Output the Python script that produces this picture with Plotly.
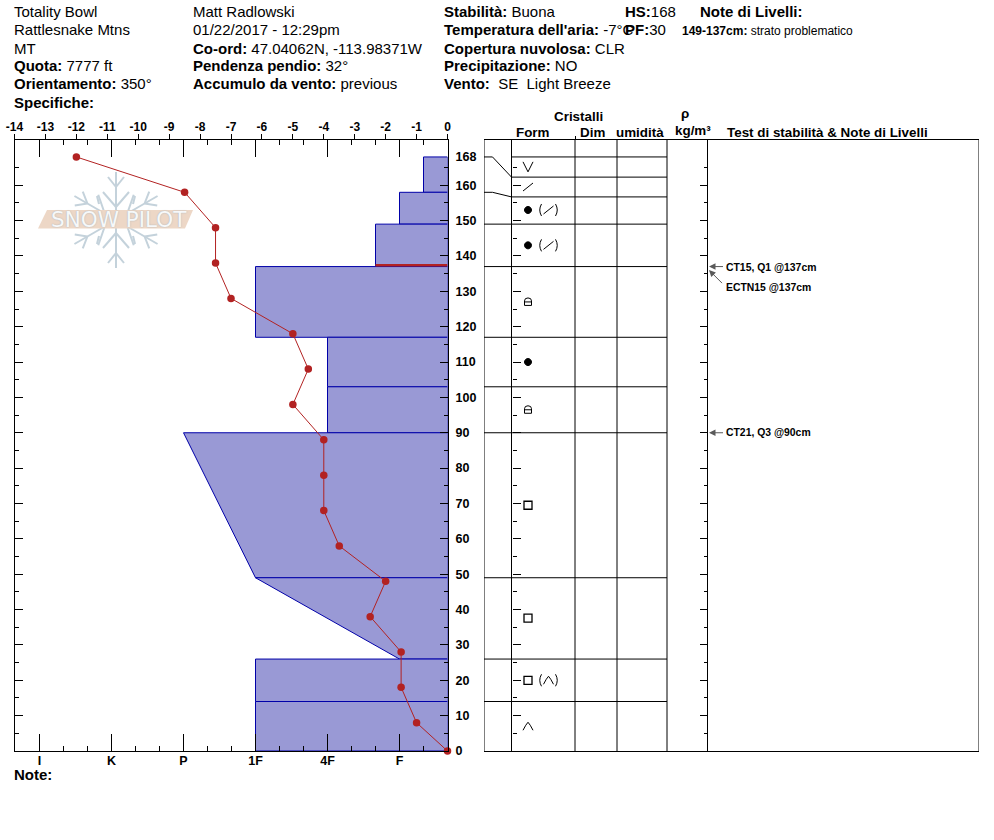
import math
import plotly.graph_objects as go

# ---------- data ----------
temp_depth = [0, 8, 18, 28, 38, 48, 58, 68, 78, 88, 98, 108, 118, 128, 138, 148, 158, 168]
temp_value = [0, -1, -1.5, -1.5, -2.5, -2, -3.5, -4, -4, -4, -5, -4.5, -5, -7, -7.5, -7.5, -8.5, -12]

layer_top = [168, 158, 149, 137, 117, 103, 90, 49, 26, 14]
layer_bottom = [158, 149, 137, 117, 103, 90, 49, 26, 14, 0]
hard_top = [2/3, 1, 4/3, 3, 2, 2, 4, 3, 3, 3]
hard_bottom = [2/3, 1, 4/3, 3, 2, 2, 3, 1, 3, 3]

hard_ticks = [6, 5, 4, 3, 2, 1]
hard_labels = ["I", "K", "P", "1F", "4F", "F"]
temp_ticks = list(range(-14, 1))
depth_labels = [0, 10, 20, 30, 40, 50, 60, 70, 80, 90, 100, 110, 120, 130, 140, 150, 160, 168]

row_lines = [168, 162.3, 156.7, 149, 137, 117, 103, 90, 49, 26, 14]
form_depth = [165.2, 159.5, 153, 143, 127, 110, 96.5, 69.5, 37.6, 20, 7]
form_primary = ["vee", "slash", "dot", "dot", "lock", "dot", "lock", "square", "square", "square", "wedge"]
form_secondary = [None, None, "slash", "slash", None, None, None, None, None, "wedge", None]

test_labels = ["CT15, Q1 @137cm", "ECTN15 @137cm", "CT21, Q3 @90cm"]
test_depths = [137, 136, 90]

# ---------- page geometry ----------
OX, OY, W, H = 0, 0, 994, 840
DARK = "#000000"
SANS = "Liberation Sans"


def X(p):
    return (p - OX) / W


def Y(p):
    return 1 - (p - OY) / H


Y_TOP = (751 - 140) / 3.536
LEFT = [X(14.5), X(447.5)]
RIGHT = [X(484), X(979)]
HARD_RANGE = [1 / 3 + 433 / 72, 1 / 3]
COLS = [0, 27.5, 91, 133, 183, 223.5, 495]

fig = go.Figure()

# layers
for t, b, ht, hb in zip(layer_top, layer_bottom, hard_top, hard_bottom):
    fig.add_trace(go.Scatter(
        x=[HARD_RANGE[1], ht, hb, HARD_RANGE[1], HARD_RANGE[1]], y=[t, t, b, b, t],
        xaxis="x", yaxis="y", mode="lines", fill="toself", fillcolor="#9999D5",
        line=dict(color="#0000A8", width=1), hoverinfo="skip", showlegend=False))
# problem layer
fig.add_trace(go.Scatter(x=[4/3, HARD_RANGE[1]], y=[137.4, 137.4], xaxis="x", yaxis="y", mode="lines",
                         line=dict(color="#B22222", width=2.5), showlegend=False, hoverinfo="skip"))
# temperature
fig.add_trace(go.Scatter(x=temp_value, y=temp_depth, xaxis="x2", yaxis="y", mode="lines+markers",
                         line=dict(color="#B22222", width=1), marker=dict(color="#B22222", size=7.5),
                         showlegend=False, hoverinfo="skip", cliponaxis=False))

# right panel: columns and rows
for c in COLS:
    fig.add_trace(go.Scatter(x=[c, c], y=[0, Y_TOP], xaxis="x4", yaxis="y", mode="lines",
                             line=dict(color=DARK, width=1), showlegend=False, hoverinfo="skip"))
for i, d in enumerate(row_lines):
    x0 = COLS[1] if i in (0, 1, 2) else 0
    fig.add_trace(go.Scatter(x=[x0, COLS[4]], y=[d, d], xaxis="x4", yaxis="y", mode="lines",
                             line=dict(color=DARK, width=1), showlegend=False, hoverinfo="skip"))
# connectors from true depth to drawn row
for true_d, row_d in ((168, 162.3), (158, 156.7)):
    fig.add_trace(go.Scatter(x=[0, 8.5, COLS[1]], y=[true_d, true_d, row_d], xaxis="x4", yaxis="y", mode="lines",
                             line=dict(color=DARK, width=1), showlegend=False, hoverinfo="skip"))

# invisible traces so that every overlay axis exists
for xa, ya in (("x3", "y"), ("x", "y2"), ("x", "y3"), ("x", "y4"), ("x", "y5")):
    fig.add_trace(go.Scatter(x=[None], y=[None], xaxis=xa, yaxis=ya, mode="lines", showlegend=False,
                             hoverinfo="skip"))


def ticks10():
    return list(range(0, 170, 10))


def ticks5():
    return list(range(5, 170, 10))


def tick_axis(**kw):
    base = dict(range=[0, Y_TOP], domain=[Y(751), Y(140)], fixedrange=True, showgrid=False, zeroline=False,
                automargin=False,
                tickmode="array", tickvals=ticks10(), ticks="inside", ticklen=8, tickcolor=DARK,
                showticklabels=False, showline=True, linecolor=DARK, linewidth=1,
                minor=dict(tickmode="array", tickvals=ticks5(), ticks="inside", ticklen=4, tickcolor=DARK,
                           showgrid=False))
    base.update(kw)
    return base


minor_hard = [n / 3 for n in range(1, 19) if n % 3]

fig.update_layout(
    template="none",
    width=W, height=H, margin=dict(l=0, r=0, t=0, b=0), paper_bgcolor="white", plot_bgcolor="rgba(0,0,0,0)",
    showlegend=False, hovermode=False, font=dict(family=SANS, color=DARK),
    xaxis=dict(domain=LEFT, range=HARD_RANGE, side="bottom", anchor="y", tickmode="array", automargin=False,
               tickvals=hard_ticks, ticktext=hard_labels, ticks="inside", ticklen=17, tickcolor=DARK,
               tickfont=dict(size=12.5, family=SANS, weight="bold"), showgrid=False, zeroline=False, showline=True,
               linecolor=DARK, linewidth=1, fixedrange=True, ticklabelstandoff=-2,
               minor=dict(tickmode="array", tickvals=minor_hard, ticks="inside",
                          ticklen=5, tickcolor=DARK, showgrid=False)),
    xaxis2=dict(domain=LEFT, range=[-14, 0], side="top", anchor="y", overlaying="x", tickmode="array",
                automargin=False, tickvals=temp_ticks,
                ticktext=[str(v) for v in temp_ticks], ticks="outside", ticklen=5, tickcolor=DARK,
                tickfont=dict(size=12, family=SANS, weight="bold"), showgrid=False, zeroline=False, showline=True,
                linecolor=DARK, linewidth=1, fixedrange=True, ticklabelstandoff=-2),
    xaxis3=dict(domain=LEFT, range=HARD_RANGE, side="top", anchor="y", overlaying="x", tickmode="array",
                automargin=False,
                tickvals=hard_ticks, ticks="inside", ticklen=17, tickcolor=DARK, showticklabels=False,
                showgrid=False, zeroline=False, fixedrange=True,
                minor=dict(tickmode="array", tickvals=minor_hard, ticks="inside",
                           ticklen=5, tickcolor=DARK, showgrid=False)),
    xaxis4=dict(domain=RIGHT, range=[0, 495], anchor="y", side="top", showgrid=False, zeroline=False,
                automargin=False, tickmode="array", tickvals=[COLS[2]], ticks="outside", ticklen=3, tickcolor=DARK,
                showticklabels=False, showline=True, mirror=True, linecolor=DARK, linewidth=1,
                fixedrange=True),
    yaxis=tick_axis(anchor="x", side="left"),
    yaxis2=tick_axis(anchor="x", side="right", overlaying="y", tickvals=depth_labels,
                     ticktext=[str(v) for v in depth_labels], showticklabels=True, ticks="", minor=dict(ticks=""),
                     showline=False, tickfont=dict(size=12.5, family=SANS, weight="bold"), ticklabelstandoff=7),
    yaxis3=tick_axis(anchor="x", side="right", overlaying="y"),
    yaxis4=tick_axis(anchor="free", position=X(511.5), side="left", overlaying="y", showline=False),
    yaxis5=tick_axis(anchor="free", position=X(707.5), side="right", overlaying="y", showline=False),
)

# ---------- crystal glyphs (pixel-sized paths anchored on the depth scale) ----------
k = 1.9
GLYPHS = {
    "vee": "M-5,5 L0,-5 L5,5",
    "slash": "M-5,-4 L5,4",
    "wedge": "M-5,-4 Q-2,2 0,4 Q2,2 5,-4",
    "square": "M-4,-4 L4,-4 L4,4 L-4,4 Z",
    "lock": "M-3.5,-3.5 L3.5,-3.5 L3.5,1 Q3.5,4 0,4 Q-3.5,4 -3.5,1 Z M-3.5,0 L3.5,0",
    "dot": f"M-3.5,0 C-3.5,{k} -{k},3.5 0,3.5 C{k},3.5 3.5,{k} 3.5,0 C3.5,-{k} {k},-3.5 0,-3.5 C-{k},-3.5 -3.5,-{k} -3.5,0 Z",
    "open": "M1.5,6 Q-2,0 1.5,-6",
    "close": "M-1.5,6 Q2,0 -1.5,-6",
}


def glyph(name, xpos, depth):
    fig.add_shape(type="path", path=GLYPHS[name], xref="x4", yref="y", xsizemode="pixel", ysizemode="pixel",
                  xanchor=xpos, yanchor=depth, line=dict(color=DARK, width=1.3 if name == "square" else 1),
                  fillcolor=DARK if name == "dot" else "rgba(0,0,0,0)")


for d, p, s in zip(form_depth, form_primary, form_secondary):
    glyph(p, 44, d)
    if s:
        glyph("open", 56, d)
        glyph(s, 64.5, d)
        glyph("close", 73, d)

# ---------- logo watermark ----------
band = [(38, 228.5), (47, 210), (193, 210), (185, 228.5)]
cx, cy = 116, 220
FLAKE = "#C4D2DB"


def logo_line(x0, y0, x1, y1):
    fig.add_shape(type="line", xref="paper", yref="paper", layer="below", x0=X(x0), y0=Y(y0), x1=X(x1), y1=Y(y1),
                  line=dict(color=FLAKE, width=2))


for a in range(0, 360, 60):
    ux, uy = math.cos(math.radians(a)), math.sin(math.radians(a))

    def pt(r, s):
        return cx + r * uy + s * ux, cy - r * ux + s * uy

    logo_line(*pt(4, 0), *pt(48, 0))
    for base, tip, side in ((13, 28, 13), (33, 43, 8)):
        logo_line(*pt(base, 0), *pt(tip, side))
        logo_line(*pt(base, 0), *pt(tip, -side))
for sx in (-1, 1):
    for sy in (-1, 1):
        logo_line(cx + sx * 17, cy + sy * 16, cx + sx * 19, cy + sy * 24)
fig.add_shape(type="path", xref="paper", yref="paper", layer="below", line=dict(width=0), fillcolor="#EDD7C6",
              path="M" + " L".join(f"{X(a):.5f},{Y(b):.5f}" for a, b in band) + " Z")


# ---------- text ----------
def text(px, py, s, size=15, anchor="left"):
    fig.add_annotation(xref="paper", yref="paper", x=X(px), y=Y(py), text=s, showarrow=False, xanchor=anchor,
                       yanchor="middle", align="left", borderpad=0, borderwidth=0,
                       font=dict(size=size, family=SANS, color=DARK))


fig.add_annotation(xref="paper", yref="paper", x=X(118.5), y=Y(219.5), text="SNOW PILOT", showarrow=False,
                   xanchor="center", yanchor="middle", borderpad=0,
                   font=dict(size=21.5, family="DejaVu Sans", color="#F7F8F9", shadow="0px 0px 1.5px #9DAEB9"))

col1 = ["Totality Bowl", "Rattlesnake Mtns", "MT", "<b>Quota:</b> 7777 ft", "<b>Orientamento:</b> 350°",
        "<b>Specifiche:</b>"]
col2 = ["Matt Radlowski", "01/22/2017 - 12:29pm", "<b>Co-ord:</b> 47.04062N, -113.98371W",
        "<b>Pendenza pendio:</b> 32°", "<b>Accumulo da vento:</b> previous"]
col3 = ["<b>Stabilità:</b> Buona", "<b>Temperatura dell'aria:</b> -7°C", "<b>Copertura nuvolosa:</b> CLR",
        "<b>Precipitazione:</b> NO", "<b>Vento:</b>  SE  Light Breeze"]
for cx_, lines in ((14, col1), (193, col2), (444, col3)):
    for i, s in enumerate(lines):
        text(cx_, 12 + 18 * i, s)
text(625, 12, "<b>HS:</b>168")
text(625, 30, "<b>PF:</b>30")
text(700, 12, "<b>Note di Livelli:</b>")
text(682, 31, "<b>149-137cm:</b> strato problematico", size=12)
text(14, 774, "<b>Note:</b>")

text(578, 117, "<b>Cristalli</b>", size=13.4, anchor="center")
text(532.5, 132, "<b>Form</b>", size=13.4, anchor="center")
text(592, 132, "<b>Dim</b>", size=13.4, anchor="center")
text(640, 132, "<b>umidità</b>", size=13.4, anchor="center")
text(685, 114, "<b>ρ</b>", size=13.4, anchor="center")
text(693, 130, "<b>kg/m³</b>", size=13.4, anchor="center")
text(727, 132, "<b>Test di stabilità &amp; Note di Livelli</b>", size=13.4)

# stability tests
text(726, 267, f"<b>{test_labels[0]}</b>", size=10.4)
text(726, 287, f"<b>{test_labels[1]}</b>", size=10.4)
text(726, 433, f"<b>{test_labels[2]}</b>", size=10.4)
for d, ax, ay in ((test_depths[0], 17, 0), (test_depths[1], 16, 16), (test_depths[2], 17, 0)):
    fig.add_annotation(xref="x4", yref="y", x=225, y=d, text=" ", showarrow=True, ax=ax, ay=ay, axref="pixel",
                       ayref="pixel", arrowcolor="#5A5A5A", arrowhead=2, arrowwidth=1, arrowsize=1.3)

fig.write_html("out.html", config=dict(displayModeBar=False),
               post_script="document.body.style.margin='0';document.body.style.overflow='hidden';")
